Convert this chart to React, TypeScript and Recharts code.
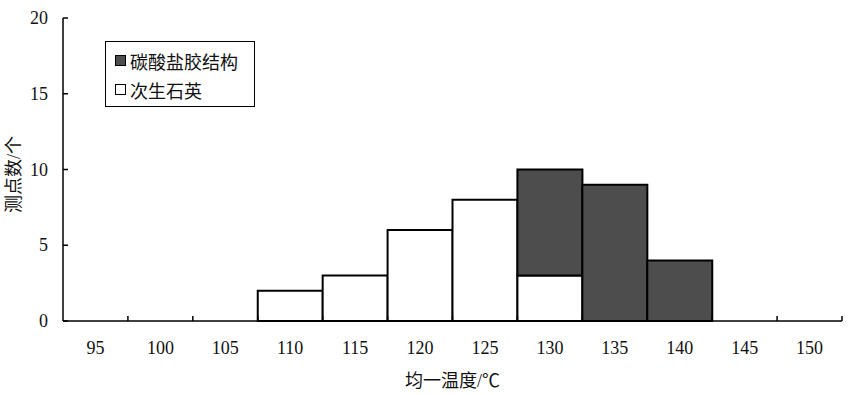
import { Bar, BarChart, Label, XAxis, YAxis } from 'recharts';

const temps = ['95', '100', '105', '110', '115', '120', '125', '130', '135', '140', '145', '150'];
const quartz = [0, 0, 0, 2, 3, 6, 8, 3, 0, 0, 0, 0];
const carbonate = [0, 0, 0, 0, 0, 0, 0, 7, 9, 4, 0, 0];
const yTicks = [0, 5, 10, 15, 20];

const DARK = '#4d4d4d';
const FONT = '"Liberation Serif", "Noto Sans CJK SC", serif';

const W = 850;
const H = 395;
const PLOT_LEFT = 63;
const PLOT_RIGHT = 8;
const BAND = (W - PLOT_LEFT - PLOT_RIGHT) / temps.length;

const data = temps.map((t, i) => ({
  temp: t,
  次生石英: quartz[i],
  碳酸盐胶结构: carbonate[i],
}));

function XTick(props: any) {
  const { x, y, payload } = props;
  const edge = x + BAND / 2;
  return (
    <g>
      <line x1={edge} y1={y} x2={edge} y2={y - 5} stroke="#000" strokeWidth={1.5} />
      <text x={x} y={y + 33} textAnchor="middle" fontSize={18} style={{ fontFamily: FONT }} fill="#111">
        {payload.value}
      </text>
    </g>
  );
}

function YTick(props: any) {
  const { x, y, payload } = props;
  return (
    <text x={x} y={y + 6} textAnchor="end" fontSize={18} style={{ fontFamily: FONT }} fill="#111">
      {payload.value}
    </text>
  );
}

function YTitle(props: any) {
  const vb = props.viewBox;
  const cx = 14;
  const cy = vb.y + vb.height / 2 + 5;
  return (
    <text
      x={cx}
      y={cy}
      transform={`rotate(-90 ${cx} ${cy})`}
      textAnchor="middle"
      dominantBaseline="central"
      fontSize={18}
      style={{ fontFamily: FONT }}
      fill="#111"
    >
      测点数/个
    </text>
  );
}

function LegendBox() {
  const items = [
    { name: '碳酸盐胶结构', fill: DARK },
    { name: '次生石英', fill: '#fff' },
  ];
  return (
    <div
      style={{
        position: 'absolute',
        left: 105,
        top: 41,
        border: '1.5px solid #000',
        background: '#fff',
        width: 150,
        height: 66,
        boxSizing: 'border-box',
        padding: '4px 0 0 9px',
        fontFamily: FONT,
        fontSize: 18,
        color: '#111',
      }}
    >
      {items.map((it) => (
        <div key={it.name} style={{ display: 'flex', alignItems: 'center', height: 29 }}>
          <span
            style={{
              display: 'inline-block',
              width: 9,
              height: 9,
              border: '1.5px solid #000',
              background: it.fill,
              marginRight: 4,
            }}
          />
          {it.name}
        </div>
      ))}
    </div>
  );
}

export default function App() {
  return (
    <div
      style={{
        position: 'absolute',
        left: 0,
        top: 0,
        width: W,
        height: H,
        background: '#fff',
        fontFamily: FONT,
      }}
    >
      <BarChart
        width={W}
        height={H}
        data={data}
        barCategoryGap={0}
        barGap={0}
        margin={{ top: 18, right: PLOT_RIGHT, bottom: 0, left: 0 }}
      >
        <XAxis
          dataKey="temp"
          height={74}
          tickLine={false}
          tickSize={0}
          tickMargin={0}
          tick={<XTick />}
          interval={0}
          axisLine={{ stroke: '#000', strokeWidth: 1.5 }}
        >
          <Label
            value="均一温度/℃"
            position="insideBottom"
            offset={8}
            style={{ fontSize: 18, fontFamily: FONT, fill: '#111' }}
          />
        </XAxis>
        <YAxis
          width={PLOT_LEFT}
          domain={[0, 20]}
          ticks={yTicks}
          interval={0}
          tickSize={-5}
          tickMargin={20}
          tick={<YTick />}
          tickLine={{ stroke: '#000', strokeWidth: 1.5 }}
          axisLine={{ stroke: '#000', strokeWidth: 1.5 }}
          label={{ content: <YTitle /> }}
        />
        <Bar dataKey="次生石英" stackId="a" fill="#fff" stroke="#000" strokeWidth={2} isAnimationActive={false} />
        <Bar dataKey="碳酸盐胶结构" stackId="a" fill={DARK} stroke="#000" strokeWidth={2} isAnimationActive={false} />
      </BarChart>
      <LegendBox />
    </div>
  );
}
